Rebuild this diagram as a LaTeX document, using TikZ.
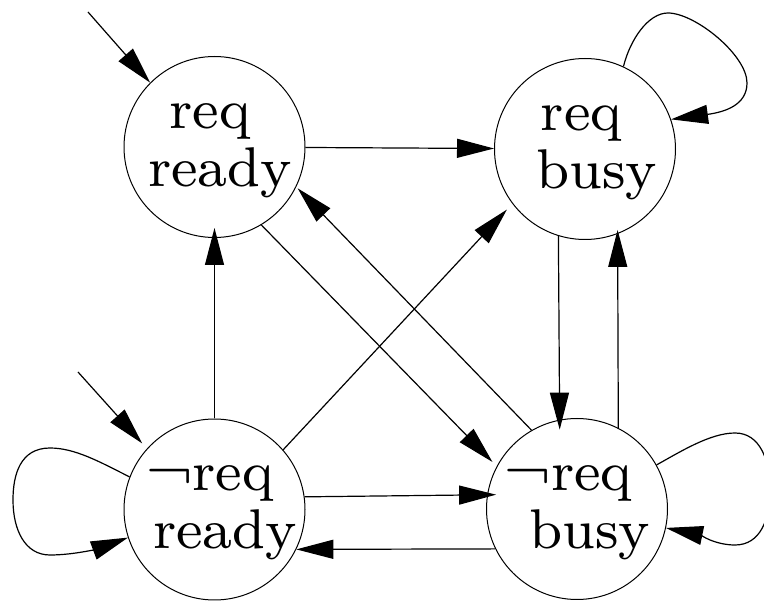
\documentclass[tikz,border=0pt]{standalone}
\usetikzlibrary{arrows.meta}
\newcommand\stline[2]{\hbox to 0pt{\hss\hspace*{#1}#2\hss}}
\newcommand\stlabel[4]{\scalebox{7}{\fontsize{8}{8.286}\selectfont\vbox{\baselineskip=8.286pt
  \stline{#1}{\rule[-1.5pt]{0pt}{6pt}#2}\stline{#3}{\rule[-1.5pt]{0pt}{6pt}#4}}}}
\begin{document}
\begin{tikzpicture}[x=1pt,y=-1pt,
  state/.style={circle,draw,line width=1pt,minimum size=181pt,inner sep=0pt},
  arr/.style={line width=1.2pt,-{Triangle[length=37pt,width=19pt]}}]
\useasboundingbox (0,0) rectangle (764,601);
\node[state] (RR) at (214.5,147) {\stlabel{-1.286pt}{req}{1.571pt}{ready}};
\node[state] (RB) at (585,149) {\stlabel{-1pt}{req}{3.343pt}{busy}};
\node[state] (NR) at (214.5,509.5) {\stlabel{-1.286pt}{¬req}{3pt}{ready}};
\node[state] (NB) at (577,509) {\stlabel{-2.43pt}{¬req}{3.57pt}{busy}};
\coordinate (i1) at (88,12);
\coordinate (i2) at (78,372);
% initial arrows
\draw[arr] (i1) -- (RR.135);
\draw[arr,shorten >=7pt] (i2) -- (NR.138);
% transitions
\draw[arr] (RR) -- (RB);
\draw[arr,shorten >=-10pt] (NR) -- (RR);
\draw[arr,shorten >=6pt] (RR.-59) -- (NB.152);
\draw[arr,shorten >=2pt] (NB.120) -- (RR.-26);
\draw[arr,shorten >=8pt] (NR.41) -- (RB.217);
\draw[arr,shorten >=-10pt] (RB.-107) -- (NB.101.5);
\draw[arr,shorten >=-4pt] (NB.63.6) -- (RB.-69.2);
\draw[arr,shorten >=-9pt] (NR.8.6) -- (NB.171.7);
\draw[arr] (NB.206.4) -- (NR.-26);
% self loops
\draw[arr] (NR.159) .. controls (100,462) and (75,448) .. (50,448)
  .. controls (20,448) and (13,475) .. (13,500)
  .. controls (13,530) and (25,555) .. (50,555)
  .. controls (75,555) and (100,548) .. (NR.198);
\draw[arr] (RB.65) .. controls (630,40) and (648,13) .. (668,13)
  .. controls (695,13) and (747,55) .. (747,83)
  .. controls (747,105) and (725,112) .. (RB.19);
\draw[arr] (NB.29) .. controls (680,452) and (710,433) .. (735,433)
  .. controls (760,433) and (770,460) .. (770,490)
  .. controls (770,520) and (760,545) .. (735,545)
  .. controls (715,545) and (700,535) .. (NB.-12);
\end{tikzpicture}
\end{document}
